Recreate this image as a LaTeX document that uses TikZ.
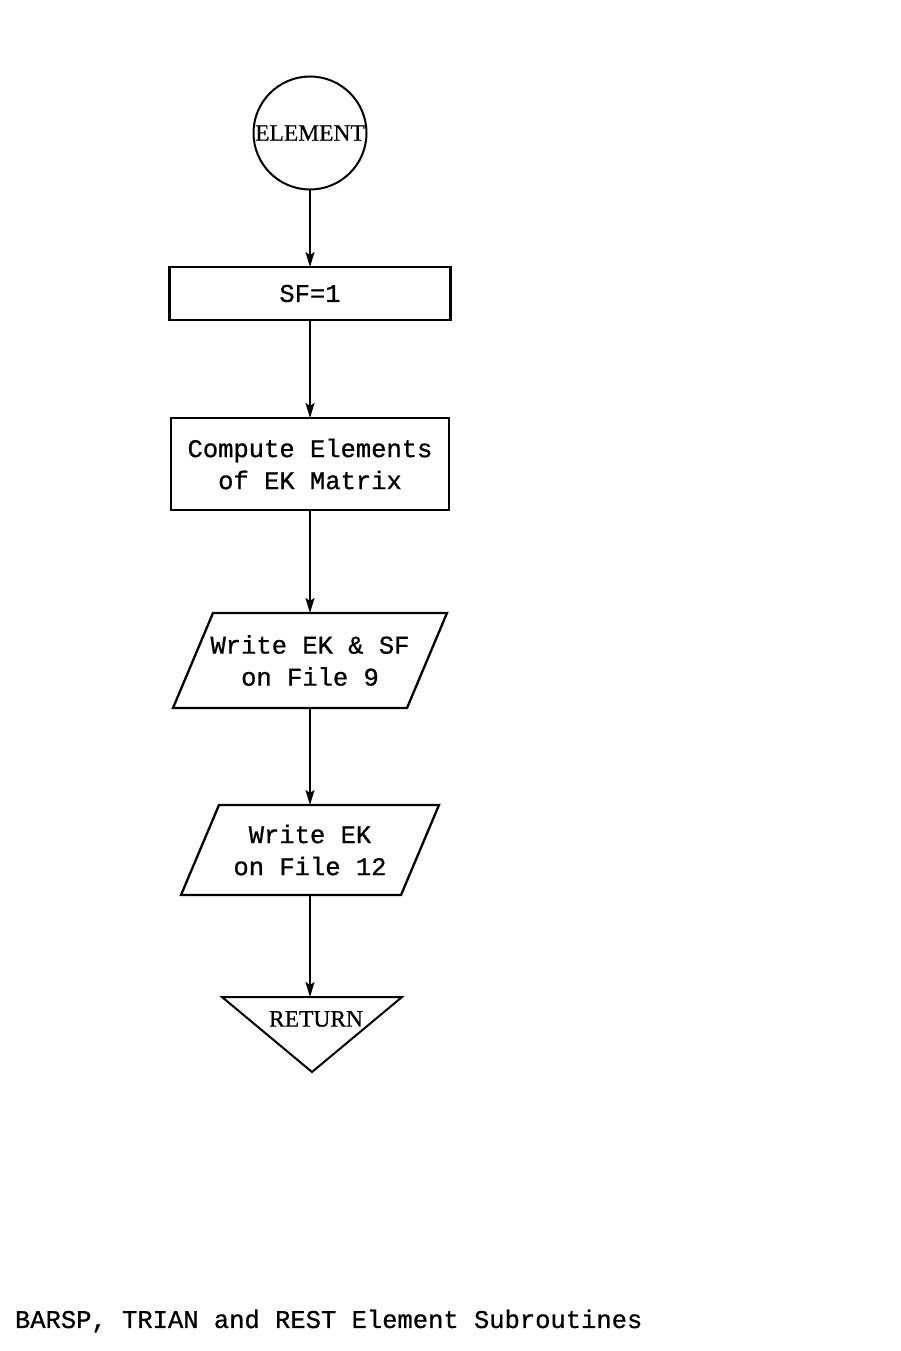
\documentclass[tikz,border=0pt]{standalone}
\usepackage{fontspec}
\setmainfont{Liberation Serif}[FakeBold=0.6]
\setmonofont{Liberation Mono}[FakeBold=0.8]
\usetikzlibrary{arrows.meta}
\begin{document}
\begin{tikzpicture}[x=1pt,y=-1pt,
  every node/.style={inner sep=0pt,outer sep=0pt},
  tt/.style={font=\fontsize{25.5}{32}\selectfont\ttfamily,align=center},
  serifl/.style={font=\fontsize{23.5}{28}\selectfont\rmfamily},
  boxstyle/.style={draw,line width=2.3pt},
  arr/.style={line width=2pt,-{Stealth[length=15pt,width=9pt,inset=3pt]}},
  line/.style={line width=2.3pt}]
\useasboundingbox[fill=white] (0,0) rectangle (900,1351);
% start circle
\node[draw,line width=2pt,circle,minimum size=113pt,serifl] (start) at (310,133) {ELEMENT};
% SF=1
\node[boxstyle,tt,minimum width=281pt,minimum height=53pt] (sf) at (310,293.5) {SF=1};
% compute
\node[boxstyle,tt,minimum width=278pt,minimum height=92pt] (comp) at (310,464) {Compute Elements\\of EK Matrix};
% write 9 (parallelogram)
\node[tt,minimum width=234pt,minimum height=95pt] (w9) at (310,660.5) {Write EK \& SF\\on File 9};
\draw[line] ([xshift=20pt]w9.north west) -- ([xshift=20pt]w9.north east)
  -- ([xshift=-20pt]w9.south east) -- ([xshift=-20pt]w9.south west) -- cycle;
% write 12
\node[tt,minimum width=220pt,minimum height=90pt] (w12) at (310,850) {Write EK\\on File 12};
\draw[line] ([xshift=19pt]w12.north west) -- ([xshift=19pt]w12.north east)
  -- ([xshift=-19pt]w12.south east) -- ([xshift=-19pt]w12.south west) -- cycle;
% return triangle
\node[minimum width=180pt,minimum height=75pt,anchor=north] (ret) at (312,997) {};
\draw[line,line width=2pt] (ret.north west) -- (ret.north east) -- (ret.south) -- cycle;
\node[serifl] (rettxt) at (316,1019) {RETURN};
% connectors
\draw[arr] (start.south) -- (sf.north);
\draw[arr] (sf.south) -- (comp.north);
\draw[arr] (comp.south) -- (w9.north);
\draw[arr] (w9.south) -- (w12.north);
\draw[arr] (w12.south) -- (w12.south |- ret.north);
% caption
\node[tt,anchor=west] (cap) at (15,1321) {BARSP, TRIAN and REST Element Subroutines};
\end{tikzpicture}
\end{document}
